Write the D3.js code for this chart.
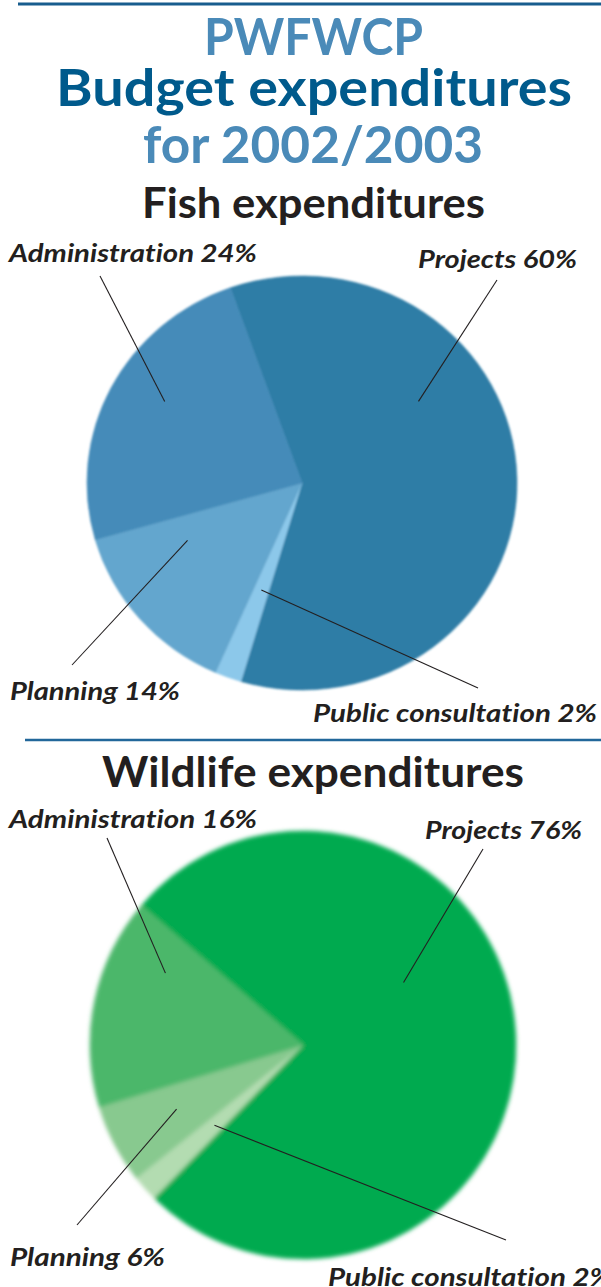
<!DOCTYPE html>
<html>
<head>
<meta charset="utf-8">
<script src="https://cdn.jsdelivr.net/npm/d3@7"></script>
<style>
  body { margin: 0; background: #fff; }
  svg { display: block; }
  text { font-variant-ligatures: none; }
  .title { font-family: Lato, "Open Sans", sans-serif; font-weight: 700; text-anchor: middle; }
  .label { font-family: Lato, "Open Sans", sans-serif; font-weight: 700; font-style: italic; fill: #231f20; }
</style>
</head>
<body>
<script>
// chart data
var categories = ["Projects", "Public consultation", "Planning", "Administration"];
var fishValues = [60, 2, 14, 24];
var wildlifeValues = [76, 2, 6, 16];
var fishColors = ["#2f7da6", "#8cc8ea", "#63a6ce", "#448bb9"];
var wildlifeColors = ["#00aa4f", "#b3dcb1", "#88c98f", "#4cb76b"];

var w = 601;
var h = 1287;

var svg = d3.select("body")
  .append("svg")
  .attr("width", w)
  .attr("height", h);

// blur filters, the scan is soft
var defs = svg.append("defs");
defs.append("filter").attr("id", "softFish")
  .attr("x", "-5%").attr("y", "-5%").attr("width", "110%").attr("height", "110%")
  .append("feGaussianBlur").attr("stdDeviation", 0.9);
defs.append("filter").attr("id", "softWild")
  .attr("x", "-5%").attr("y", "-5%").attr("width", "110%").attr("height", "110%")
  .append("feGaussianBlur").attr("stdDeviation", 2);

// rules
svg.append("line")
  .attr("x1", 18).attr("x2", w).attr("y1", 4).attr("y2", 4)
  .attr("stroke", "#185d8e").attr("stroke-width", 3);
svg.append("line")
  .attr("x1", 25).attr("x2", w).attr("y1", 740).attr("y2", 740)
  .attr("stroke", "#22679a").attr("stroke-width", 2.5);

// titles
function title(txt, x, y, size, color, width) {
  svg.append("text")
    .attr("class", "title")
    .attr("x", x)
    .attr("y", y)
    .attr("font-size", size)
    .attr("fill", color)
    .attr("textLength", width)
    .attr("lengthAdjust", "spacingAndGlyphs")
    .text(txt);
}
title("PWFWCP", 313.5, 55, 51, "#4a8ab8", 219);
title("Budget expenditures", 314, 106, 51, "#005a8c", 516);
title("for 2002/2003", 313, 163, 51, "#4a8ab8", 340);
title("Fish expenditures", 313.5, 218, 42, "#231f20", 343);
title("Wildlife expenditures", 313, 787, 42, "#231f20", 422);

// one pie with its labels
function drawPie(values, colors, cfg) {
  var pie = d3.pie()
    .sort(null)
    .value(function(d) { return d; })
    .startAngle(cfg.start)
    .endAngle(cfg.start + 2 * Math.PI);
  var arcs = pie(values);

  var arc = d3.arc()
    .innerRadius(0)
    .outerRadius(cfg.ry);

  var g = svg.append("g")
    .attr("filter", "url(#" + cfg.filter + ")")
    .append("g")
    .attr("transform", "translate(" + cfg.cx + "," + cfg.cy + ") scale(" + (cfg.rx / cfg.ry) + ",1)");

  g.selectAll("path")
    .data(arcs)
    .enter()
    .append("path")
    .attr("d", arc)
    .attr("fill", function(d, i) { return colors[i]; })
    .attr("stroke", function(d, i) { return colors[i]; })
    .attr("stroke-width", 0.6);

  // leader lines + labels
  arcs.forEach(function(a, i) {
    var L = cfg.labels[i];
    var ang = a.startAngle + L.t * (a.endAngle - a.startAngle);
    var px = cfg.cx + cfg.rx * L.r * Math.sin(ang);
    var py = cfg.cy - cfg.ry * L.r * Math.cos(ang);
    svg.append("line")
      .attr("x1", L.lx).attr("y1", L.ly)
      .attr("x2", px).attr("y2", py)
      .attr("stroke", "#231f20")
      .attr("stroke-width", 1.1);
    svg.append("text")
      .attr("class", "label")
      .attr("x", L.x)
      .attr("y", L.y)
      .attr("font-size", L.size)
      .attr("textLength", L.w)
      .attr("lengthAdjust", "spacingAndGlyphs")
      .text(categories[i] + " " + values[i] + "%");
  });
}

drawPie(fishValues, fishColors, {
  cx: 302, cy: 483, rx: 215, ry: 207, start: -0.34, filter: "softFish",
  labels: [
    { x: 418, y: 268, w: 159, size: 25, lx: 497, ly: 280, t: 0.34, r: 0.67 },
    { x: 313, y: 722, w: 284, size: 25, lx: 478, ly: 688, t: 0.5, r: 0.55 },
    { x: 10, y: 700, w: 170, size: 25, lx: 72, ly: 665, t: 0.77, r: 0.6 },
    { x: 9, y: 262, w: 248, size: 25, lx: 100, ly: 276, t: 0.55, r: 0.75 }
  ]
});

drawPie(wildlifeValues, wildlifeColors, {
  cx: 303, cy: 1045, rx: 213, ry: 214, start: -0.86, filter: "softWild",
  labels: [
    { x: 425, y: 839, w: 157, size: 24, lx: 483, ly: 849, t: 0.393, r: 0.555 },
    { x: 328, y: 1286, w: 284, size: 24, lx: 506, ly: 1240, t: 0.5, r: 0.56 },
    { x: 10, y: 1266, w: 155, size: 24, lx: 77, ly: 1225, t: 0.54, r: 0.665 },
    { x: 9, y: 828, w: 248, size: 24, lx: 107, ly: 838, t: 0.77, r: 0.728 }
  ]
});
</script>
</body>
</html>
